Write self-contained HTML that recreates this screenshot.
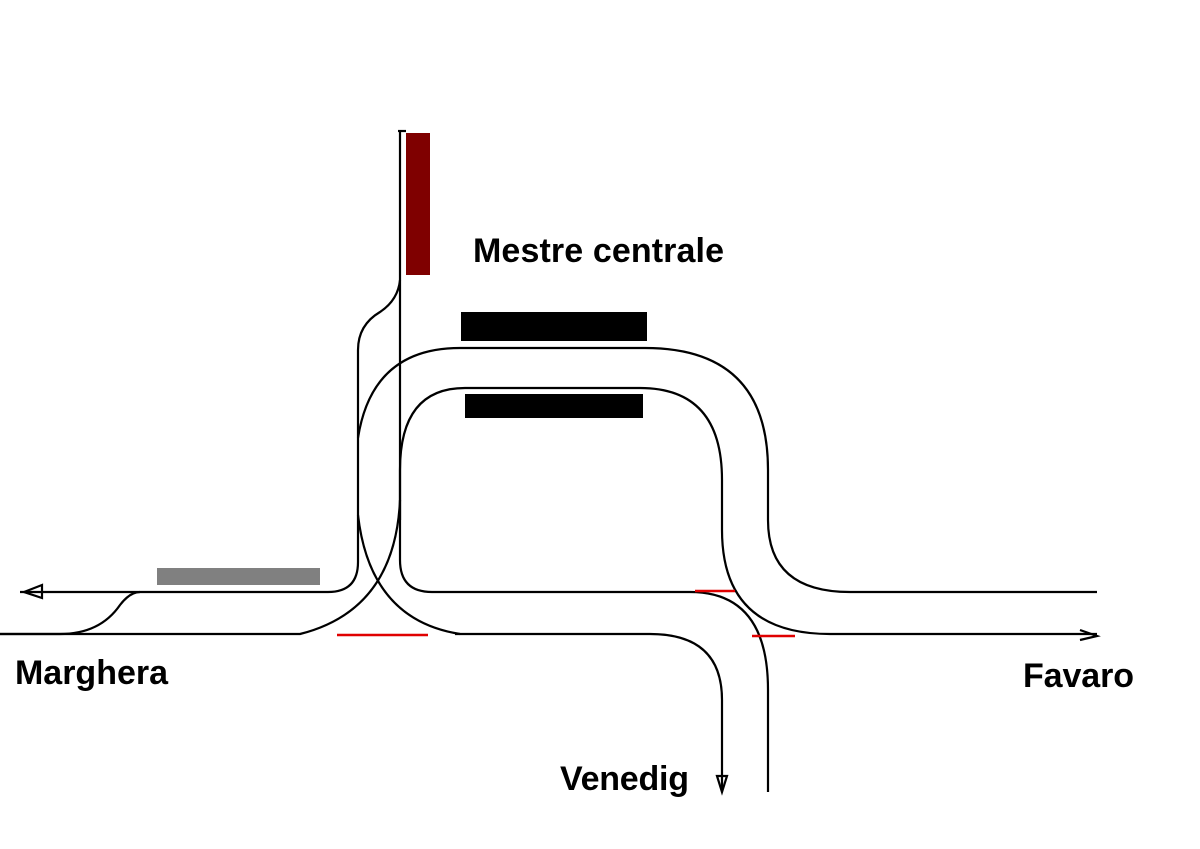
<!DOCTYPE html>
<html><head><style>
body{margin:0;background:#fff;}
svg{display:block}
text{font-family:"Liberation Sans",sans-serif;font-weight:bold;fill:#000}
</style></head><body>
<svg width="1200" height="849" viewBox="0 0 1200 849">
<rect width="1200" height="849" fill="#fff"/>
<rect x="406" y="133" width="24" height="142" fill="#7f0000"/>
<rect x="461" y="312" width="186" height="29" fill="#000"/>
<rect x="465" y="394" width="178" height="24" fill="#000"/>
<rect x="157" y="568" width="163" height="17" fill="#808080"/>
<g fill="none" stroke="#000" stroke-width="2.2">
<path d="M398 131 H406"/>
<path d="M400 131 V560 Q400 592 432 592 H690 Q768 592 768 690 V792"/>
<path d="M400 280 Q398 300 380 312 Q358 325 358 350 V562 Q358 592 328 592 H20"/>
<path d="M0 634 H60 Q100 634 120 605 Q130 592 140 592"/>
<path d="M0 634 H300 Q395 610 400 500"/>
<path d="M358 515 Q370 620 460 634"/>
<path d="M455 634 H650 Q722 634 722 700 V790"/>
<path d="M358 438 Q372 348 460 348 H645 Q768 348 768 470 V520 Q768 592 850 592 H1097"/>
<path d="M400 520 V470 Q400 388 465 388 H640 Q722 388 722 480 V530 Q722 634 830 634 H1097"/>
<path d="M42 585 L24 592 L42 598 Z"/>
<path d="M1080 630 L1097 636 L1080 640"/>
<path d="M717 776 L722 792 L727 776 Z"/>
</g>
<g stroke="#e00000" stroke-width="2.5">
<path d="M337 635 H428"/><path d="M695 591 H735"/><path d="M752 636 H795"/>
</g>
<text x="473" y="262" font-size="34" textLength="251">Mestre centrale</text>
<text x="15" y="684" font-size="34" textLength="153">Marghera</text>
<text x="1023" y="687" font-size="34" textLength="111">Favaro</text>
<text x="560" y="790" font-size="34" textLength="129">Venedig</text>
</svg>
</body></html>
